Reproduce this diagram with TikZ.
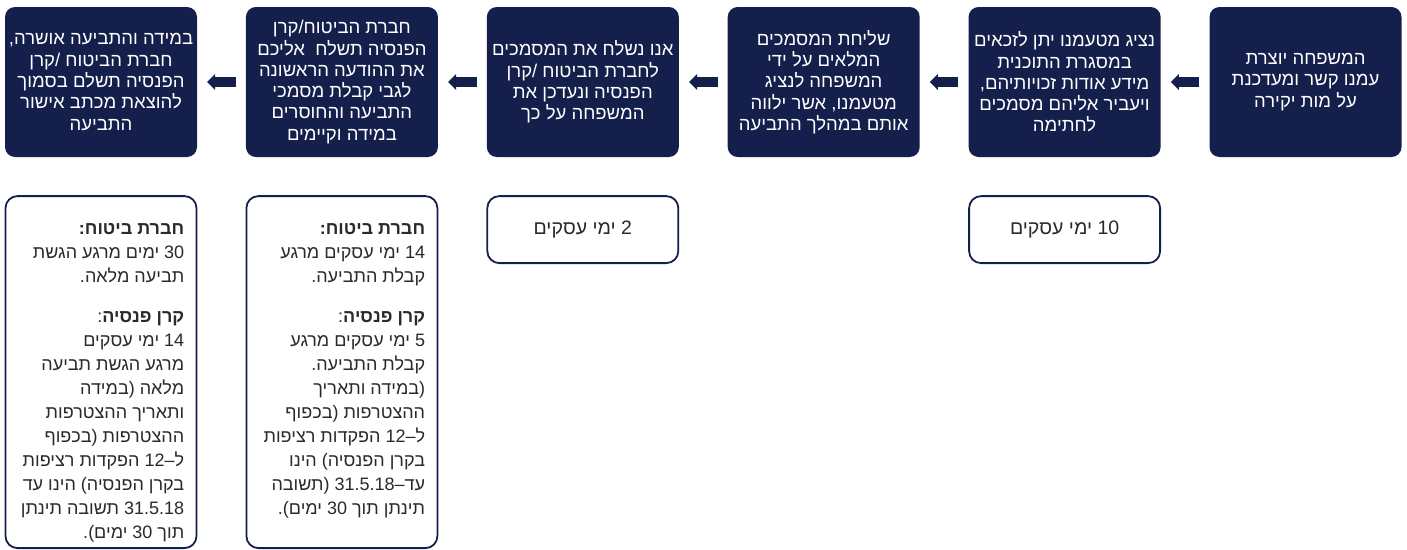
\documentclass[tikz,border=0pt]{standalone}
\usepackage{fontspec}
\setmainfont[Script=Hebrew]{Liberation Sans}
\usetikzlibrary{arrows.meta}
\usetikzlibrary{positioning}
\TeXXeTstate=1
\definecolor{cNavy}{HTML}{141F4B}
\definecolor{cGrey}{HTML}{2A2A2A}
\newcommand{\rl}[1]{\beginR #1\endR}

\tikzset{
	stepbox/.style={fill=cNavy, rounded corners=10pt, minimum width=192pt, minimum height=150pt, inner sep=0pt, text=white, align=center, font=\fontsize{18.5}{21.3}\selectfont},
	timebox/.style={draw=cNavy, line width=1.8pt, fill=white, rounded corners=12pt, minimum width=191pt, inner sep=0pt},
	timetext/.style={text=cGrey, inner sep=0pt, font=\fontsize{18}{24}\selectfont},
	blockarrow/.style={cNavy, line width=9.5pt, -{Triangle[length=8pt, width=16pt, line width=0pt]}}
}

\begin{document}
\begin{tikzpicture}[x=1pt, y=-1pt]
	\useasboundingbox (0,0) rectangle (1407,549);
	\clip (0,0) rectangle (1407,549);
	% steps, right to left
	\node[stepbox] (s1) at (1305.5,82) {\rl{המשפחה יוצרת}\\\rl{עמנו קשר ומעדכנת}\\\rl{על מות יקירה}};
	\node[stepbox, left=48.5pt of s1] (s2) {\rl{נציג מטעמנו יתן לזכאים}\\\rl{במסגרת התוכנית}\\\rl{מידע אודות זכויותיהם,}\\\rl{ויעביר אליהם מסמכים}\\\rl{לחתימה}};
	\node[stepbox, left=48.5pt of s2] (s3) {\rl{שליחת המסמכים}\\\rl{המלאים על ידי}\\\rl{המשפחה לנציג}\\\rl{מטעמנו, אשר ילווה}\\\rl{אותם במהלך התביעה}};
	\node[stepbox, left=48.5pt of s3] (s4) {\rl{אנו נשלח את המסמכים}\\\rl{לחברת הביטוח /קרן}\\\rl{הפנסיה ונעדכן את}\\\rl{המשפחה על כך}};
	\node[stepbox, left=48.5pt of s4] (s5) {\rl{חברת הביטוח/קרן}\\\rl{הפנסיה תשלח\ \ אליכם}\\\rl{את ההודעה הראשונה}\\\rl{לגבי קבלת מסמכי}\\\rl{התביעה והחוסרים}\\\rl{במידה וקיימים}};
	\node[stepbox, left=48.5pt of s5] (s6) {\rl{במידה והתביעה אושרה,}\\\rl{חברת הביטוח /קרן}\\\rl{הפנסיה תשלם בסמוך}\\\rl{להוצאת מכתב אישור}\\\rl{התביעה}};
	\foreach \a/\b in {s1/s2, s2/s3, s3/s4, s4/s5, s5/s6}
		\draw[blockarrow] ([xshift=-10pt]\a.west) -- ([xshift=10pt]\b.east);
	% time frames
	\node[timebox, minimum height=67pt, below=38pt of s2] (t2) {};
	\node[timetext, font=\fontsize{19.5}{23.5}\selectfont] at (t2) {\rl{10 ימי עסקים}};
	\node[timebox, minimum height=67pt, below=38pt of s4] (t4) {};
	\node[timetext, font=\fontsize{19.5}{23.5}\selectfont] at (t4) {\rl{2 ימי עסקים}};
	\node[timebox, minimum height=352pt, below=38pt of s5] (t5) {};
	\node[timetext, align=right, anchor=north east] at ([xshift=-13pt, yshift=-28pt]t5.north east) {\rl{\textbf{חברת ביטוח:}}\\\rl{14 ימי עסקים מרגע}\\\rl{קבלת התביעה.}\\[16pt]\rl{\textbf{קרן פנסיה}:}\\\rl{5 ימי עסקים מרגע}\\\rl{קבלת התביעה.}\\\rl{(במידה ותאריך}\\\rl{ההצטרפות (בכפוף}\\\rl{ל–12 הפקדות רציפות}\\\rl{בקרן הפנסיה) הינו}\\\rl{עד–31.5.18 (תשובה}\\\rl{תינתן תוך 30 ימים).}};
	\node[timebox, minimum height=352pt, below=38pt of s6] (t6) {};
	\node[timetext, align=right, anchor=north east] at ([xshift=-13pt, yshift=-28pt]t6.north east) {\rl{\textbf{חברת ביטוח:}}\\\rl{30 ימים מרגע הגשת}\\\rl{תביעה מלאה.}\\[16pt]\rl{\textbf{קרן פנסיה}:}\\\rl{14 ימי עסקים}\\\rl{מרגע הגשת תביעה}\\\rl{מלאה (במידה}\\\rl{ותאריך ההצטרפות}\\\rl{ההצטרפות (בכפוף}\\\rl{ל–12 הפקדות רציפות}\\\rl{בקרן הפנסיה) הינו עד}\\\rl{31.5.18 תשובה תינתן}\\\rl{תוך 30 ימים).}};
\end{tikzpicture}
\end{document}
